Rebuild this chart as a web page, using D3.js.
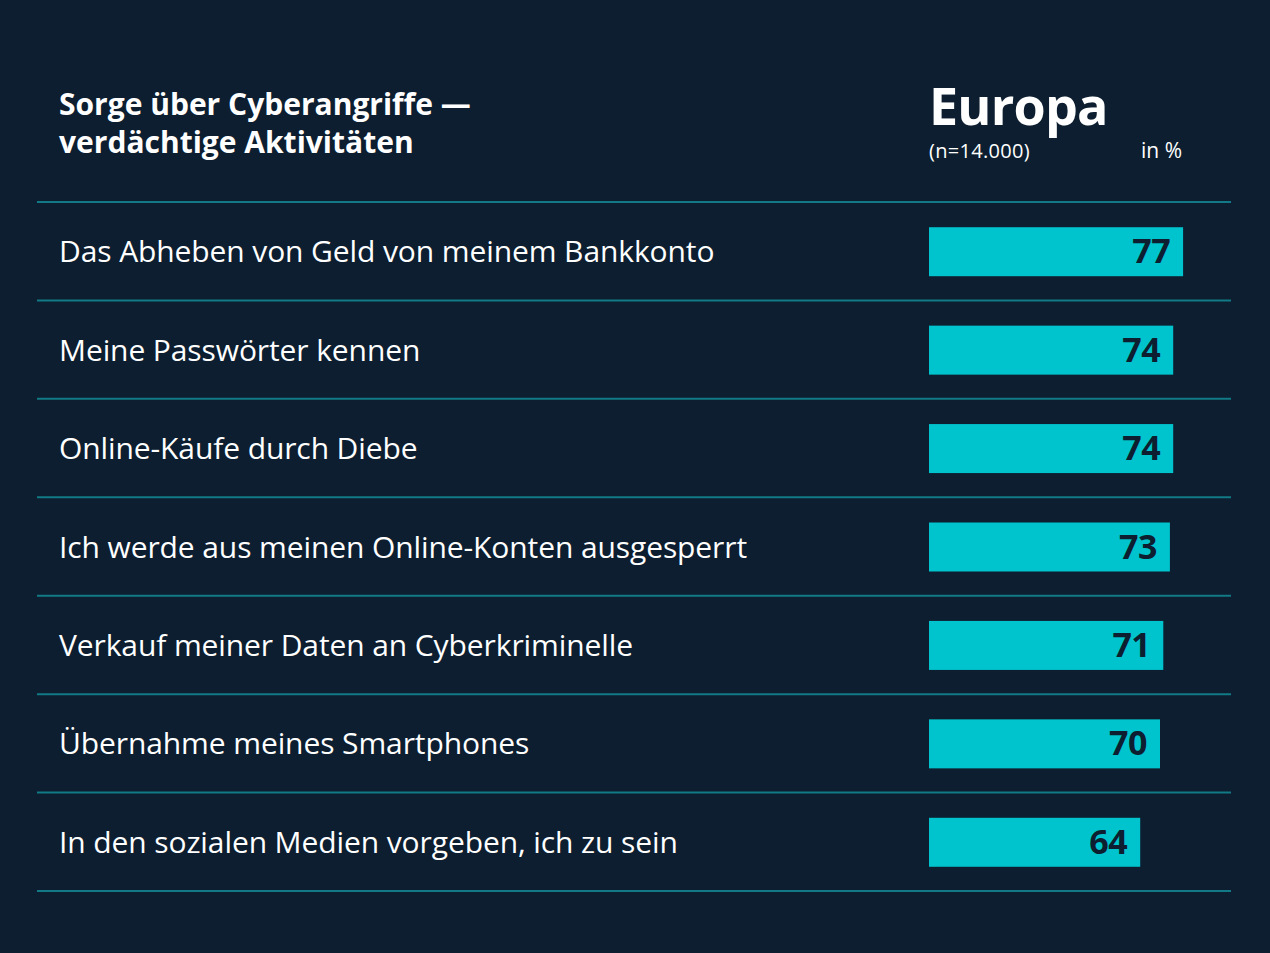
<!DOCTYPE html>
<html><head><meta charset="utf-8">
<script src="https://cdn.jsdelivr.net/npm/d3@7"></script>
<style>
html,body{margin:0;padding:0;background:#0c1e2f;}
svg{display:block;}
</style></head>
<body>
<svg id="chart" width="1270" height="953"></svg>
<script>
const categories = [
  "Das Abheben von Geld von meinem Bankkonto",
  "Meine Passwörter kennen",
  "Online-Käufe durch Diebe",
  "Ich werde aus meinen Online-Konten ausgesperrt",
  "Verkauf meiner Daten an Cyberkriminelle",
  "Übernahme meines Smartphones",
  "In den sozialen Medien vorgeben, ich zu sein"
];
const values = [77, 74, 74, 73, 71, 70, 64];
const titleLines = ["Sorge über Cyberangriffe —", "verdächtige Aktivitäten"];
const regionLabel = "Europa";
const sampleLabel = "(n=14.000)";
const unitLabel = "in %";

const svg = d3.select("#chart");
const W = 1270, H = 953;
svg.append("rect").attr("width", W).attr("height", H).attr("fill", "#0c1e2f");

const font = "'Open Sans', sans-serif";
const lineColor = "#127a86";
const barColor = "#00c4cd";

const y = d3.scaleBand().domain(categories).range([202, 891]).paddingInner(0).paddingOuter(0);
const x = d3.scaleLinear().domain([0, 100]).range([929, 1259]);

// title
svg.append("g").selectAll("text").data(titleLines).join("text")
  .attr("x", 59).attr("y", (d, i) => 115 + i * 38)
  .attr("fill", "#fff").attr("font-family", font).attr("font-weight", 700)
  .attr("font-size", 30).attr("letter-spacing", 0).text(d => d);

svg.append("text").attr("x", 929).attr("y", 125).attr("fill", "#fff")
  .attr("font-family", font).attr("font-weight", 700).attr("font-size", 52)
  .attr("letter-spacing", -0.8).text(regionLabel);
svg.append("text").attr("x", 929).attr("y", 158).attr("fill", "#fff")
  .attr("font-family", font).attr("font-weight", 400).attr("font-size", 20)
  .attr("letter-spacing", 0.3).text(sampleLabel);
svg.append("text").attr("x", 1182).attr("y", 158).attr("fill", "#fff")
  .attr("text-anchor", "end")
  .attr("font-family", font).attr("font-weight", 400).attr("font-size", 21)
  .text(unitLabel);

// separator lines
const seps = [categories[0]].map(c => y(c)).concat(categories.map(c => y(c) + y.bandwidth()));
svg.append("g").selectAll("line").data(seps).join("line")
  .attr("x1", 37).attr("x2", 1231).attr("y1", d => d).attr("y2", d => d)
  .attr("stroke", lineColor).attr("stroke-width", 2);

const rows = svg.append("g").selectAll("g").data(categories).join("g");

rows.append("text")
  .attr("x", 59).attr("y", d => y(d) + y.bandwidth() / 2 + 11)
  .attr("fill", "#fff").attr("font-family", font).attr("font-weight", 400)
  .attr("font-size", 30).attr("letter-spacing", -0.1).text(d => d);

const bh = 49;
rows.append("rect")
  .attr("x", x(0)).attr("y", d => y(d) + y.bandwidth() / 2 - bh / 2 + 0.5)
  .attr("width", (d, i) => x(values[i]) - x(0)).attr("height", bh)
  .attr("fill", barColor);

rows.append("text")
  .attr("x", (d, i) => x(values[i]) - 13).attr("y", d => y(d) + y.bandwidth() / 2 + 12)
  .attr("text-anchor", "end").attr("fill", "#0c1e2f")
  .attr("font-family", font).attr("font-weight", 700).attr("font-size", 34)
  .attr("letter-spacing", -0.5)
  .text((d, i) => values[i]);
</script>
</body></html>
